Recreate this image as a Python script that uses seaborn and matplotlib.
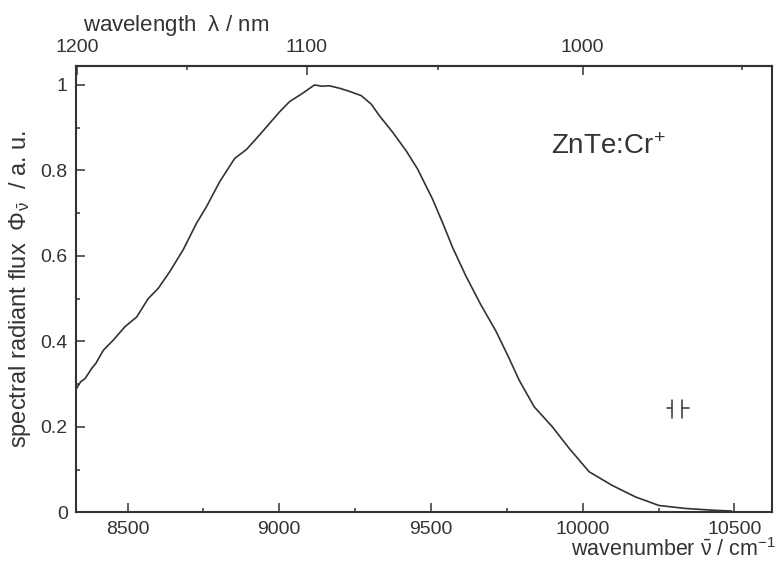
import pandas as pd
import matplotlib
matplotlib.use("Agg")
import matplotlib.pyplot as plt
from matplotlib.ticker import MultipleLocator, FixedLocator
import seaborn as sns

# traced spectrum: wavenumber / cm-1 and normalised flux
wavenumber = [8332, 8345, 8360, 8382, 8395, 8420, 8453, 8491, 8530, 8568, 8601, 8639,
              8683, 8727, 8760, 8804, 8853, 8892, 8935, 9001, 9034, 9078,
              9116, 9140, 9165, 9200, 9231, 9270, 9303, 9330, 9374, 9418,
              9456, 9505, 9538, 9571, 9615, 9664, 9714, 9757, 9790, 9840,
              9900, 9955, 10021, 10097, 10174, 10251, 10339, 10426, 10490]
flux = [0.290, 0.305, 0.313, 0.337, 0.348, 0.379, 0.403, 0.434, 0.457, 0.500, 0.524, 0.563,
        0.614, 0.676, 0.715, 0.774, 0.828, 0.849, 0.883, 0.937, 0.961, 0.981,
        1.000, 0.997, 0.998, 0.992, 0.985, 0.975, 0.955, 0.928, 0.889, 0.846,
        0.803, 0.733, 0.678, 0.620, 0.553, 0.486, 0.424, 0.361, 0.310, 0.247,
        0.200, 0.150, 0.095, 0.063, 0.036, 0.016, 0.009, 0.005, 0.003]

# spectral resolution marker
res_bars = [10295, 10328]
res_stubs = [10277, 10350]
res_y = [0.220, 0.262]
res_stub_y = 0.243

wl_major = [1200, 1100, 1000]
wl_minor = [1150, 1050, 950]

df = pd.DataFrame({"wavenumber": wavenumber, "flux": flux})

sns.set_theme(style="ticks")
plt.rcParams["font.family"] = ["Liberation Sans", "DejaVu Sans"]
plt.rcParams["mathtext.fontset"] = "custom"
plt.rcParams["mathtext.rm"] = "Liberation Sans"
plt.rcParams["mathtext.default"] = "regular"

ink = "#333333"
tick_fs = 14
label_fs = 16

fig = plt.figure(figsize=(7.81, 5.61), dpi=100)
ax = fig.add_axes([0.0973, 0.0868, 0.8916, 0.7961])

sns.lineplot(data=df, x="wavenumber", y="flux", ax=ax, color=ink,
             linewidth=1.2, estimator=None, sort=True)

# resolution bracket
for xb in res_bars:
    ax.plot([xb, xb], res_y, color=ink, linewidth=1.1)
ax.plot([res_stubs[0], res_bars[0]], [res_stub_y] * 2, color=ink, linewidth=1.1)
ax.plot([res_bars[1], res_stubs[1]], [res_stub_y] * 2, color=ink, linewidth=1.1)

ax.set_xlim(8330, 10625)
ax.set_ylim(0, 1.045)
ax.xaxis.set_major_locator(MultipleLocator(500))
ax.xaxis.set_minor_locator(MultipleLocator(250))
ax.yaxis.set_major_locator(FixedLocator([0, 0.2, 0.4, 0.6, 0.8, 1.0]))
ax.yaxis.set_minor_locator(MultipleLocator(0.1))
ax.set_yticklabels(["0", "0.2", "0.4", "0.6", "0.8", "1"])

for s in ax.spines.values():
    s.set_visible(True)
    s.set_linewidth(1.5)
    s.set_color(ink)

ax.tick_params(which="both", direction="in", colors=ink, labelsize=tick_fs,
               top=False, right=False, width=1.1)
ax.tick_params(which="major", length=6.5, pad=6)
ax.tick_params(which="minor", length=3.2)

ax.set_xlabel(r"wavenumber $\bar{\nu}$ / cm$^{-1}$", fontsize=15.5, color=ink,
              loc="right", labelpad=0)
ax.xaxis.label.set_x(1.005)
ax.set_ylabel(r"spectral radiant flux  $\Phi_{\bar{\nu}}$  / a. u.", fontsize=17,
              color=ink, labelpad=5)

ax.text(9896, 0.855, "ZnTe:Cr$^{+}$", fontsize=20, color=ink, va="center", ha="left")

# wavelength axis on top
top = ax.secondary_xaxis("top", functions=(lambda x: 1e7 / x, lambda x: 1e7 / x))
top.xaxis.set_major_locator(FixedLocator(wl_major))
top.xaxis.set_minor_locator(FixedLocator(wl_minor))
top.tick_params(which="both", direction="in", colors=ink, labelsize=tick_fs, width=1.1)
top.tick_params(which="major", length=6.5, pad=7)
top.tick_params(which="minor", length=3.2)
top.spines["top"].set_linewidth(1.5)
top.spines["top"].set_color(ink)
top.set_xlabel(r"wavelength  $\lambda$ / nm", fontsize=label_fs, color=ink,
               loc="left", labelpad=6)
top.xaxis.label.set_x(0.01)

fig.savefig("out.png", dpi=100)
